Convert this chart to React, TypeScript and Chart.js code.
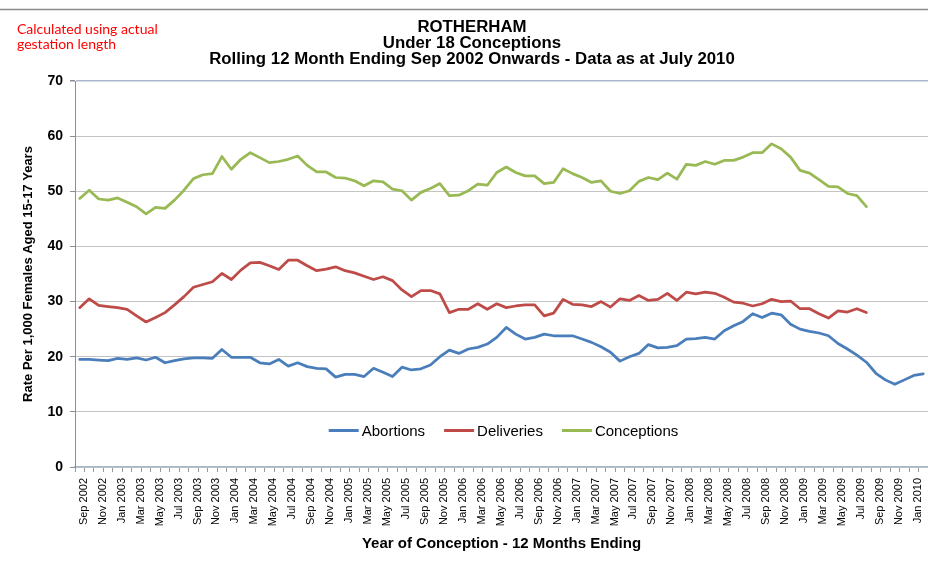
import { useEffect, useRef } from 'react';
import { Chart, registerables } from 'chart.js';

Chart.register(...registerables);

const FONT = '"Liberation Sans", Arial, Helvetica, sans-serif';

const categories = [
  'Sep 2002', 'Oct 2002', 'Nov 2002', 'Dec 2002',
  'Jan 2003', 'Feb 2003', 'Mar 2003', 'Apr 2003', 'May 2003', 'Jun 2003', 'Jul 2003', 'Aug 2003', 'Sep 2003', 'Oct 2003', 'Nov 2003', 'Dec 2003',
  'Jan 2004', 'Feb 2004', 'Mar 2004', 'Apr 2004', 'May 2004', 'Jun 2004', 'Jul 2004', 'Aug 2004', 'Sep 2004', 'Oct 2004', 'Nov 2004', 'Dec 2004',
  'Jan 2005', 'Feb 2005', 'Mar 2005', 'Apr 2005', 'May 2005', 'Jun 2005', 'Jul 2005', 'Aug 2005', 'Sep 2005', 'Oct 2005', 'Nov 2005', 'Dec 2005',
  'Jan 2006', 'Feb 2006', 'Mar 2006', 'Apr 2006', 'May 2006', 'Jun 2006', 'Jul 2006', 'Aug 2006', 'Sep 2006', 'Oct 2006', 'Nov 2006', 'Dec 2006',
  'Jan 2007', 'Feb 2007', 'Mar 2007', 'Apr 2007', 'May 2007', 'Jun 2007', 'Jul 2007', 'Aug 2007', 'Sep 2007', 'Oct 2007', 'Nov 2007', 'Dec 2007',
  'Jan 2008', 'Feb 2008', 'Mar 2008', 'Apr 2008', 'May 2008', 'Jun 2008', 'Jul 2008', 'Aug 2008', 'Sep 2008', 'Oct 2008', 'Nov 2008', 'Dec 2008',
  'Jan 2009', 'Feb 2009', 'Mar 2009', 'Apr 2009', 'May 2009', 'Jun 2009', 'Jul 2009', 'Aug 2009', 'Sep 2009', 'Oct 2009', 'Nov 2009', 'Dec 2009',
  'Jan 2010', 'Feb 2010',
];

const abortions = [
  19.5, 19.5, 19.4, 19.3,
  19.7, 19.5, 19.8, 19.4, 19.9, 18.9, 19.3, 19.6, 19.8, 19.8, 19.7, 21.3,
  19.9, 19.9, 19.9, 18.9, 18.7, 19.5, 18.3, 18.9, 18.2, 17.9, 17.8, 16.3,
  16.8, 16.8, 16.4, 17.9, 17.2, 16.4, 18.1, 17.6, 17.8, 18.5, 20.0, 21.2,
  20.6, 21.4, 21.7, 22.3, 23.5, 25.3, 24.1, 23.2, 23.5, 24.1, 23.8, 23.8,
  23.8, 23.2, 22.6, 21.8, 20.8, 19.2, 20.0, 20.6, 22.2, 21.6, 21.7, 22.0,
  23.2, 23.3, 23.5, 23.2, 24.7, 25.6, 26.4, 27.8, 27.1, 27.9, 27.6, 25.9,
  25.0, 24.6, 24.3, 23.8, 22.4, 21.4, 20.3, 19.0, 17.0, 15.8, 15.0, 15.8,
  16.6, 16.9,
];

const deliveries = [
  28.9, 30.5, 29.3, 29.1,
  28.9, 28.6, 27.4, 26.3, 27.1, 28.0, 29.4, 30.9, 32.6, 33.1, 33.6, 35.1,
  34.0, 35.7, 37.0, 37.1, 36.5, 35.8, 37.5, 37.5, 36.5, 35.6, 35.9, 36.3,
  35.6, 35.2, 34.6, 34.0, 34.5, 33.8, 32.1, 30.9, 32.0, 32.0, 31.4, 28.0,
  28.6, 28.6, 29.6, 28.6, 29.6, 28.9, 29.2, 29.4, 29.4, 27.4, 27.9, 30.4,
  29.5, 29.4, 29.1, 30.0, 29.0, 30.5, 30.2, 31.1, 30.2, 30.4, 31.5, 30.2,
  31.7, 31.4, 31.7, 31.5, 30.8, 29.9, 29.7, 29.2, 29.6, 30.4, 30.0, 30.1,
  28.7, 28.7, 27.8, 27.0, 28.3, 28.1, 28.7, 28.0, null, null, null, null,
  null, null,
];

const conceptions = [
  48.7, 50.2, 48.6, 48.4,
  48.8, 48.0, 47.2, 45.9, 47.1, 46.9, 48.4, 50.2, 52.3, 53.0, 53.2, 56.3,
  54.0, 55.8, 57.0, 56.1, 55.2, 55.4, 55.8, 56.4, 54.7, 53.5, 53.5, 52.5,
  52.4, 51.9, 51.0, 51.9, 51.7, 50.4, 50.1, 48.4, 49.8, 50.5, 51.4, 49.2,
  49.3, 50.1, 51.3, 51.1, 53.4, 54.4, 53.4, 52.8, 52.8, 51.4, 51.6, 54.1,
  53.2, 52.5, 51.6, 51.9, 50.0, 49.6, 50.1, 51.8, 52.5, 52.1, 53.3, 52.2,
  54.9, 54.7, 55.4, 54.9, 55.6, 55.6, 56.2, 57.0, 57.0, 58.6, 57.7, 56.2,
  53.8, 53.3, 52.1, 50.9, 50.8, 49.6, 49.2, 47.2, null, null, null, null,
  null, null,
];

const titleLines = [
  'ROTHERHAM',
  'Under 18 Conceptions',
  'Rolling 12 Month Ending Sep 2002 Onwards - Data as at July 2010',
];
const noteLines = ['Calculated using actual', 'gestation length'];
const xTitle = 'Year of Conception - 12 Months Ending';
const yTitle = 'Rate Per 1,000 Females Aged 15-17 Years';
const yMin = 0;
const yMax = 70;
const yStep = 10;

const decorPlugin = {
  id: 'decor',
  afterDraw(chart: any) {
    const ctx = chart.ctx as CanvasRenderingContext2D;
    const area = chart.chartArea;
    ctx.save();
    // top rule
    ctx.strokeStyle = '#8a8a8a';
    ctx.lineWidth = 1.5;
    ctx.beginPath();
    ctx.moveTo(0, 9.5);
    ctx.lineTo(chart.width, 9.5);
    ctx.stroke();
    // note
    ctx.fillStyle = '#ff0000';
    ctx.font = '14px Lato, "Open Sans", sans-serif';
    ctx.textAlign = 'left';
    ctx.textBaseline = 'middle';
    noteLines.forEach((t, i) => ctx.fillText(t, 17, 29.5 + i * 15));
    // title (slightly widened like the original rendering)
    ctx.fillStyle = '#000';
    ctx.font = `bold 16px ${FONT}`;
    ctx.textAlign = 'center';
    titleLines.forEach((t, i) => {
      ctx.save();
      ctx.translate(472, 27.5 + i * 16);
      ctx.scale(1.05, 1);
      ctx.fillText(t, 0, 0);
      ctx.restore();
    });
    // legend
    ctx.font = `15px ${FONT}`;
    const lineLen = 30;
    const gapText = 3;
    const gapItem = 19;
    const items = chart.data.datasets.map((ds: any) => ({
      label: ds.label,
      color: ds.borderColor,
      w: ctx.measureText(ds.label).width,
    }));
    const total =
      items.reduce((s: number, it: any) => s + lineLen + gapText + it.w, 0) +
      gapItem * (items.length - 1);
    let x = (area.left + area.right) / 2 - total / 2 + 2;
    const y = area.bottom - 36.5;
    ctx.textAlign = 'left';
    ctx.lineWidth = 3;
    items.forEach((it: any) => {
      ctx.strokeStyle = it.color;
      ctx.beginPath();
      ctx.moveTo(x, y);
      ctx.lineTo(x + lineLen, y);
      ctx.stroke();
      x += lineLen + gapText;
      ctx.fillText(it.label, x, y + 1);
      x += it.w + gapItem;
    });
    ctx.restore();
  },
};

export default function App() {
  const ref = useRef<HTMLCanvasElement>(null);

  useEffect(() => {
    const canvas = ref.current;
    if (!canvas) return;
    const lineDs = (label: string, data: (number | null)[], color: string) => ({
      label,
      data,
      borderColor: color,
      backgroundColor: color,
      borderWidth: 2.75,
      pointRadius: 0,
      tension: 0,
      spanGaps: false,
      borderCapStyle: 'round' as const,
      borderJoinStyle: 'round' as const,
    });
    const chart = new Chart(canvas, {
      type: 'line',
      data: {
        labels: categories,
        datasets: [
          lineDs('Abortions', abortions, '#4A7EBB'),
          lineDs('Deliveries', deliveries, '#BE4B48'),
          lineDs('Conceptions', conceptions, '#98B954'),
        ],
      },
      options: {
        responsive: false,
        animation: false,
        devicePixelRatio: 1,
        layout: { padding: { top: 81, left: 0, right: 0, bottom: 0 } },
        plugins: {
          legend: { display: false },
          title: { display: false },
          tooltip: { enabled: false },
        },
        scales: {
          x: {
            type: 'category',
            offset: true,
            grid: {
              offset: true,
              drawOnChartArea: false,
              drawTicks: true,
              tickLength: 5,
              color: '#9a9a9a',
            },
            border: { color: '#a9b7ca', width: 1.5 },
            ticks: {
              autoSkip: false,
              maxRotation: 90,
              minRotation: 90,
              padding: 6,
              labelOffset: 4,
              color: '#000',
              font: { family: FONT, size: 11 },
              callback: (_v: any, i: number) => (i % 2 === 0 ? categories[i] : ''),
            },
            title: {
              display: true,
              text: xTitle,
              color: '#000',
              font: { family: FONT, size: 15, weight: 'bold' },
              padding: { top: 0, bottom: 28 },
            },
            afterFit: (s: any) => {
              s.height = 114;
              s.paddingLeft = 0;
              s.paddingRight = 0;
            },
          },
          y: {
            min: yMin,
            max: yMax,
            ticks: {
              stepSize: yStep,
              padding: 7,
              color: '#000',
              font: { family: FONT, size: 14, weight: 'bold' },
            },
            grid: {
              color: (c: any) => (c.tick && c.tick.value === yMax ? '#a9b7ca' : '#c4c4c4'),
              lineWidth: (c: any) => (c.tick && c.tick.value === yMax ? 1.5 : 1),
              tickLength: 5,
              tickColor: '#8e8e8e',
            },
            border: { color: '#8e8e8e', width: 1 },
            title: {
              display: true,
              text: yTitle,
              color: '#000',
              font: { family: FONT, size: 13, weight: 'bold' },
              padding: { top: 21, bottom: 0 },
            },
            afterFit: (s: any) => {
              s.width = 75;
              s.paddingTop = 0;
              s.paddingBottom = 0;
            },
          },
        },
      } as any,
      plugins: [decorPlugin],
    });
    return () => chart.destroy();
  }, []);

  return (
    <div
      style={{
        position: 'fixed',
        left: 0,
        top: 0,
        width: 928,
        height: 581,
        overflow: 'hidden',
        background: '#fff',
      }}
    >
      <canvas ref={ref} width={928} height={581} style={{ display: 'block', width: 928, height: 581 }} />
    </div>
  );
}
